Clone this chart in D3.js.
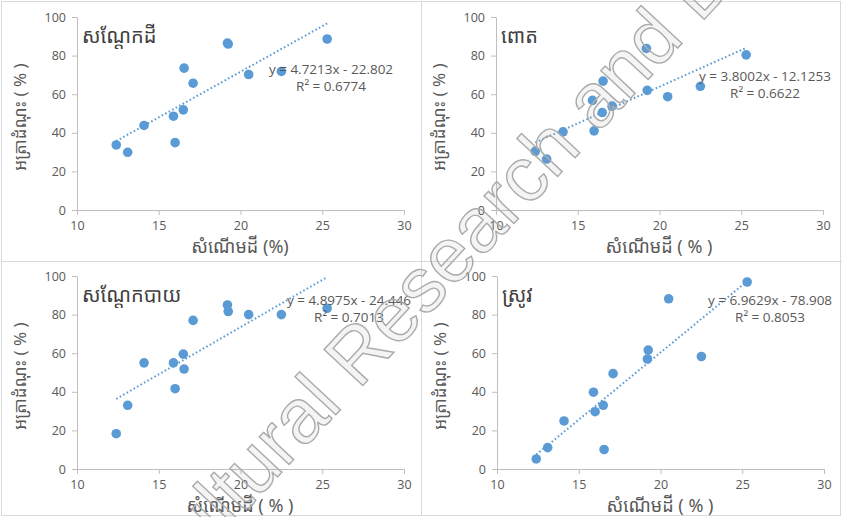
<!DOCTYPE html>
<html>
<head>
<meta charset="utf-8">
<script src="https://cdn.jsdelivr.net/npm/d3@7"></script>
<style>
  body { margin: 0; background: #fff; }
  svg { display: block; }
</style>
</head>
<body>
<svg id="chart" width="843" height="517"></svg>
<script>
// soil moisture (%) shared by the four crops
const moisture  = [12.4, 13.1, 14.1, 15.9, 16.0, 16.5, 16.55, 17.1, 19.2, 19.25, 20.5, 22.5, 25.3];
// germination rate (%) per crop
const peanut    = [33.7, 29.9, 43.8, 48.6, 34.9, 51.9, 73.5, 65.7, 86.5, 86.0, 70.2, 71.8, 88.6];
const maize     = [30.4, 26.4, 40.5, 56.8, 41.0, 50.5, 66.8, 53.8, 83.7, 62.0, 58.7, 64.1, 80.4];
const mungbean  = [18.3, 33.0, 55.0, 55.0, 41.6, 59.5, 51.8, 77.0, 85.0, 81.6, 80.0, 80.0, 83.3];
const rice      = [5.2, 11.1, 24.9, 39.8, 29.7, 33.0, 10.1, 49.4, 57.0, 61.6, 88.2, 58.3, 96.9];

const titles     = ["សណ្តែកដី", "ពោត", "សណ្តែកបាយ", "ស្រូវ"];
const slopes     = [4.7213, 3.8002, 4.8975, 6.9629];
const intercepts = [-22.802, -12.1253, -24.446, -78.908];
const eqLabels   = ["y = 4.7213x - 22.802", "y = 3.8002x - 12.1253", "y = 4.8975x - 24.446", "y = 6.9629x - 78.908"];
const r2Labels   = ["R² = 0.6774", "R² = 0.6622", "R² = 0.7013", "R² = 0.8053"];
const xTitles    = ["សំណើមដី (%)", "សំណើមដី ( % )", "សំណើមដី ( % )", "សំណើមដី ( % )"];
const yTitle     = "អត្រាដំណុះ ( % )";
const xTicks     = [10, 15, 20, 25, 30];
const yTicks     = [0, 20, 40, 60, 80, 100];

const series = [peanut, maize, mungbean, rice];

// layout of each panel (offset) and its equation label centre
const panels = [
  { dx: 0,   dy: 0,   eq: [331, 69] },
  { dx: 419, dy: 0,   eq: [346, 76] },
  { dx: 0,   dy: 259, eq: [349, 41] },
  { dx: 420, dy: 259, eq: [350, 41] }
];

const FONT = "'Open Sans', 'Noto Sans', sans-serif";
const KH = "'Khmer OS', 'Noto Sans Khmer', 'Khmer OS System', 'Noto Sans', sans-serif";
const BLUE = "#5b9bd5";

const svg = d3.select("#chart");

// frames
svg.append("rect").attr("x", 1.5).attr("y", 1.5).attr("width", 839).attr("height", 514)
  .attr("fill", "#fff").attr("stroke", "#d9d9d9");
svg.append("line").attr("x1", 421.5).attr("x2", 421.5).attr("y1", 1).attr("y2", 516).attr("stroke", "#d9d9d9");
svg.append("line").attr("x1", 1).attr("x2", 842).attr("y1", 261.5).attr("y2", 261.5).attr("stroke", "#d9d9d9");

const plotL = 77, plotR = 404, plotT = 17, plotB = 210;

panels.forEach((p, i) => {
  const g = svg.append("g").attr("transform", `translate(${p.dx},${p.dy})`);
  const x = d3.scaleLinear().domain([10, 30]).range([plotL, plotR]);
  const y = d3.scaleLinear().domain([0, 100]).range([plotB, plotT]);

  const xa = g.append("g").attr("transform", `translate(0,${plotB})`)
    .call(d3.axisBottom(x).tickValues(xTicks).tickSize(5).tickPadding(6).tickSizeOuter(0));
  const ya = g.append("g").attr("transform", `translate(${plotL},0)`)
    .call(d3.axisLeft(y).tickValues(yTicks).tickSize(5).tickPadding(6).tickSizeOuter(0));
  [xa, ya].forEach(a => {
    a.select(".domain").attr("stroke", "#bfbfbf");
    a.selectAll(".tick line").attr("stroke", "#bfbfbf");
    a.selectAll(".tick text").attr("font-family", FONT).attr("font-size", 12.5).attr("fill", "#595959");
  });

  // trend line from the fitted equation, over the data range
  const [x0, x1] = d3.extent(moisture);
  g.append("line")
    .attr("x1", x(x0)).attr("y1", y(slopes[i] * x0 + intercepts[i]))
    .attr("x2", x(x1)).attr("y2", y(slopes[i] * x1 + intercepts[i]))
    .attr("stroke", BLUE).attr("stroke-width", 2)
    .attr("stroke-dasharray", "1.6,2.4");

  g.selectAll(".pt").data(moisture.map((m, k) => [m, series[i][k]]))
    .enter().append("circle").attr("class", "pt")
    .attr("cx", d => x(d[0])).attr("cy", d => y(d[1])).attr("r", 4.8)
    .attr("fill", BLUE);

  g.append("text").attr("x", 82).attr("y", 43)
    .attr("font-family", KH).attr("font-size", 20).attr("fill", "#404040")
    .text(titles[i]);

  g.append("text").attr("x", p.eq[0]).attr("y", p.eq[1] + 5).attr("text-anchor", "middle")
    .attr("font-family", FONT).attr("font-size", 13.5).attr("fill", "#595959")
    .text(eqLabels[i]);
  g.append("text").attr("x", p.eq[0]).attr("y", p.eq[1] + 22).attr("text-anchor", "middle")
    .attr("font-family", FONT).attr("font-size", 13.5).attr("fill", "#595959")
    .text(r2Labels[i]);

  g.append("text").attr("x", 240).attr("y", 253).attr("text-anchor", "middle")
    .attr("font-family", KH).attr("font-size", 18).attr("fill", "#595959")
    .text(xTitles[i]);
  g.append("text").attr("transform", "translate(26,117) rotate(-90)").attr("text-anchor", "middle")
    .attr("font-family", KH).attr("font-size", 17).attr("fill", "#595959")
    .text(yTitle);
});

// watermark across the figure
const wm = svg.append("text")
  .attr("font-family", "'Liberation Sans', Arial, sans-serif").attr("font-size", 77)
  .attr("fill", "rgba(150,150,150,0.10)").attr("stroke", "#ababab").attr("stroke-width", 1.4)
  .text("Agricultural Research and Development");
const off = wm.node().getSubStringLength(0, 6);
wm.attr("x", -off).attr("transform", "translate(230,528) rotate(-47)");
</script>
</body>
</html>
